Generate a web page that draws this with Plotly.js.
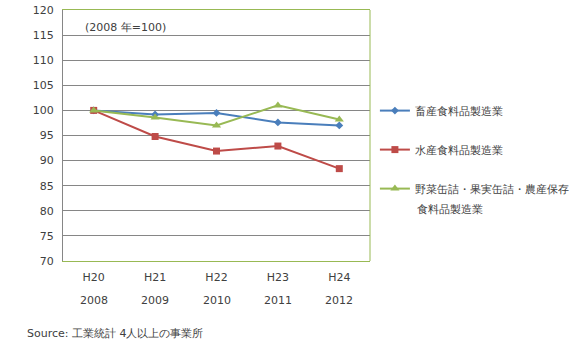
<!DOCTYPE html>
<html><head><meta charset="utf-8">
<script src="https://cdn.plot.ly/plotly-3.0.1.min.js"></script>
<style>body{margin:0;background:#fff}#c{width:569px;height:352px}</style>
</head><body><div id="c"></div>
<script>
const categories = ["H20","H21","H22","H23","H24"];
const years = ["2008","2009","2010","2011","2012"];
const names = ["畜産食料品製造業","水産食料品製造業","野菜缶詰・果実缶詰・農産保存"];
const nameCont = "食料品製造業";
const livestock = [100, 99.2, 99.5, 97.6, 97.0];
const marine = [100, 94.8, 91.9, 92.9, 88.4];
const vegetable = [100, 98.6, 97.0, 101.0, 98.2];
const yTicks = [70,75,80,85,90,95,100,105,110,115,120];

const font = {family:"DejaVu Sans, Verdana, sans-serif", size:11, color:"#404040"};
const mk = (y, name, color, symbol, size, g) => ({
  x: categories, y: y, name: name, type:"scatter", mode:"lines+markers",
  line:{color:color, width:2}, marker:{color:color, symbol:symbol, size:size},
  legendgroup:g
});
const data = [
  mk(livestock, names[0], "#4a7ebb", "diamond", 6, "a"),
  mk(marine, names[1], "#be4b48", "square", 7, "b"),
  mk(vegetable, names[2], "#98b954", "triangle-up", 8, "c")
];
const annotations = years.map((yr, i)=>({x:categories[i], y:-0.159, xref:"x", yref:"paper", yanchor:"middle", text:yr, showarrow:false, font:font}));
annotations.push({x:0.065, y:0.932, xref:"paper", yref:"paper", xanchor:"left", yanchor:"middle", text:"(2008 年=100)", showarrow:false, font:font});
annotations.push({x:-0.124, y:-0.287, xref:"paper", yref:"paper", xanchor:"left", yanchor:"middle", text:"Source: 工業統計 4人以上の事業所", showarrow:false, font:font});
annotations.push({x:1.147, y:0.207, xref:"paper", yref:"paper", xanchor:"left", yanchor:"middle", text:nameCont, showarrow:false, font:font});
const layout = {
  width:569, height:352, margin:{l:63, r:199, t:10, b:91, autoexpand:false},
  paper_bgcolor:"#fff", plot_bgcolor:"#fff", font:font,
  showlegend:true,
  legend:{x:1.016, xanchor:"left", y:0.657, yanchor:"top", tracegroupgap:20, font:font, bgcolor:"rgba(0,0,0,0)"},
  xaxis:{type:"category", range:[-0.5,4.5], showgrid:false, showline:true, linecolor:"#98b954", linewidth:1, mirror:true, ticks:"", tickfont:font, ticklabelstandoff:6},
  yaxis:{range:[70,120], tickvals:yTicks, showgrid:true, gridcolor:"#868686", gridwidth:1, showline:true, linecolor:"#868686", ticks:"", tickfont:font, zeroline:false, ticklabelstandoff:6},
  shapes:[{type:"line", xref:"paper", yref:"paper", x0:1, x1:1, y0:0, y1:1, line:{color:"#98b954", width:1}}],
  annotations:annotations
};
Plotly.newPlot("c", data, layout, {staticPlot:true});
</script></body></html>
